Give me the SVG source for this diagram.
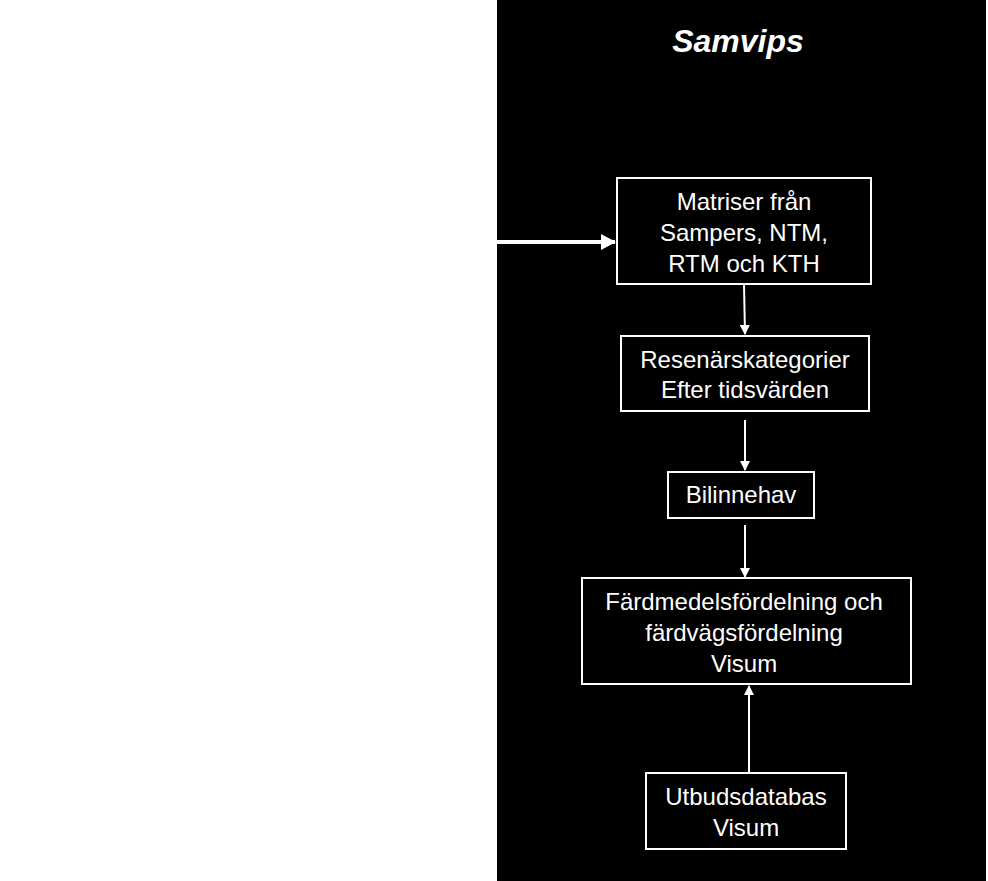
<svg xmlns="http://www.w3.org/2000/svg" width="988" height="881" viewBox="0 0 988 881">
<style>
.box{fill:#000;stroke:#fff;stroke-width:2}
.t{fill:#fff;font-family:"Liberation Sans",Arial,sans-serif;font-size:24px;text-anchor:middle}
.c{stroke:#fff;stroke-width:2;fill:none;marker-end:url(#a)}
</style>
<defs><marker id="a" markerWidth="10" markerHeight="10" refX="9" refY="5" orient="auto" markerUnits="userSpaceOnUse"><path d="M0,0 L10,5 L0,10 Z" fill="#fff"/></marker>
<marker id="b" markerWidth="16" markerHeight="16" refX="14" refY="8" orient="auto" markerUnits="userSpaceOnUse"><path d="M0,0 L15,8 L0,16 Z" fill="#fff"/></marker></defs>
<rect width="988" height="881" fill="#fff"/>
<rect x="497" y="0" width="489" height="881" fill="#000"/>
<text x="738" y="52" class="t" style="font-size:32px;font-weight:bold;font-style:italic">Samvips</text>
<g id="connectors">
<line x1="497" y1="242" x2="615" y2="242" stroke="#fff" stroke-width="4" marker-end="url(#b)"/>
<line x1="744" y1="284" x2="745" y2="334" class="c"/>
<line x1="745" y1="420" x2="745" y2="470" class="c"/>
<line x1="745" y1="525" x2="745" y2="577" class="c"/>
<line x1="749" y1="773" x2="749" y2="686" class="c"/>
</g>
<g id="n1"><rect class="box" x="617" y="178" width="254" height="106"/><text class="t" x="744" y="210">Matriser från</text><text class="t" x="744" y="241">Sampers, NTM,</text><text class="t" x="744" y="272">RTM och KTH</text></g>
<g id="n2"><rect class="box" x="621" y="336" width="248" height="75"/><text class="t" x="745" y="368">Resenärskategorier</text><text class="t" x="745" y="398">Efter tidsvärden</text></g>
<g id="n3"><rect class="box" x="668" y="472" width="146" height="46"/><text class="t" x="741" y="503">Bilinnehav</text></g>
<g id="n4"><rect class="box" x="582" y="578" width="329" height="106"/><text class="t" x="744" y="610">Färdmedelsfördelning och</text><text class="t" x="744" y="641">färdvägsfördelning</text><text class="t" x="744" y="672">Visum</text></g>
<g id="n5"><rect class="box" x="646" y="773" width="200" height="76"/><text class="t" x="746" y="805">Utbudsdatabas</text><text class="t" x="746" y="836">Visum</text></g>
</svg>
